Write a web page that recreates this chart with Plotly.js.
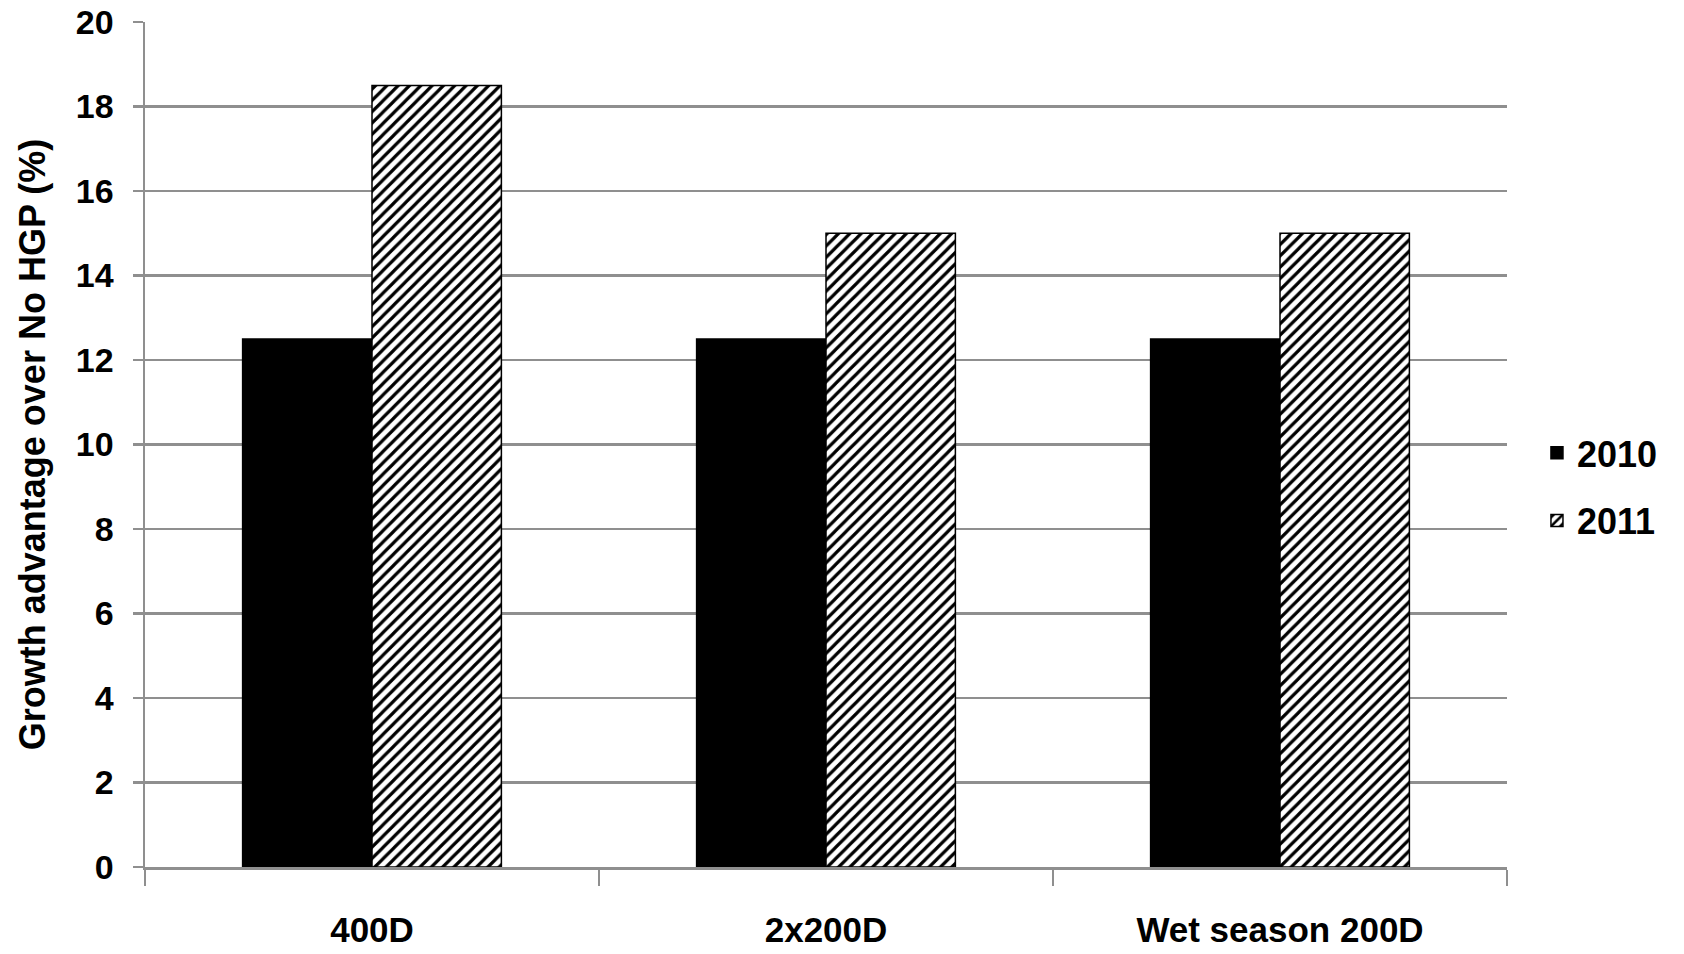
<!DOCTYPE html>
<html>
<head>
<meta charset="utf-8">
<script src="https://cdn.plot.ly/plotly-3.0.1.min.js"></script>
<style>html,body{margin:0;padding:0;background:#fff;}#chart{width:1684px;height:954px;}</style>
</head>
<body>
<div id="chart"></div>
<script>
const categories = ["400D", "2x200D", "Wet season 200D"];
const values2010 = [12.5, 12.5, 12.5];
const values2011 = [18.5, 15, 15];
const seriesNames = ["2010", "2011"];
const yTicks = [0, 2, 4, 6, 8, 10, 12, 14, 16, 18, 20];

const fontFam = "'Liberation Sans', Arial, sans-serif";
const gridCol = "#8f8f8f";

const traces = [
  {
    type: "bar", name: seriesNames[0], x: categories, y: values2010, legendgroup: "a",
    marker: {color: "#000000", line: {color: "#000000", width: 1.5}}
  },
  {
    type: "bar", name: seriesNames[1], x: categories, y: values2011, legendgroup: "b",
    marker: {color: "#ffffff", line: {color: "#000000", width: 1.5},
      pattern: {shape: "/", fgcolor: "#000000", bgcolor: "#ffffff", size: 8, solidity: 0.4}}
  }
];

const layout = {
  width: 1684, height: 954,
  margin: {l: 145, r: 177, t: 22, b: 87},
  paper_bgcolor: "#ffffff", plot_bgcolor: "#ffffff",
  barmode: "group", bargap: 0.43, bargroupgap: 0,
  font: {family: fontFam, color: "#000000"},
  showlegend: true,
  legend: {x: 1.022, y: 0.45, xanchor: "left", yanchor: "middle", traceorder: "grouped",
    font: {size: 36, family: fontFam, weight: "bold"}, tracegroupgap: 18, itemwidth: 30},
  xaxis: {
    type: "category", tickson: "boundaries", ticks: "outside", ticklen: 16, tickwidth: 2.5,
    tickcolor: gridCol, showline: true, linecolor: gridCol, linewidth: 2.5,
    showgrid: false, ticklabelstandoff: 30,
    tickfont: {size: 35, family: fontFam, weight: "bold"}
  },
  yaxis: {
    range: [0, 20], tickvals: yTicks, ticktext: yTicks.map(String),
    ticks: "outside", ticklen: 10, tickwidth: 2.5, tickcolor: gridCol,
    showline: true, linecolor: gridCol, linewidth: 2.5,
    showgrid: true, gridcolor: gridCol, gridwidth: 2.5, zeroline: false,
    ticklabelstandoff: 12,
    tickfont: {size: 34, family: fontFam, weight: "bold"},
    title: {text: "Growth advantage over No HGP (%)", standoff: 20,
      font: {size: 36, family: fontFam, weight: "bold"}}
  }
};

Plotly.newPlot("chart", traces, layout, {staticPlot: true, displayModeBar: false});
</script>
</body>
</html>
